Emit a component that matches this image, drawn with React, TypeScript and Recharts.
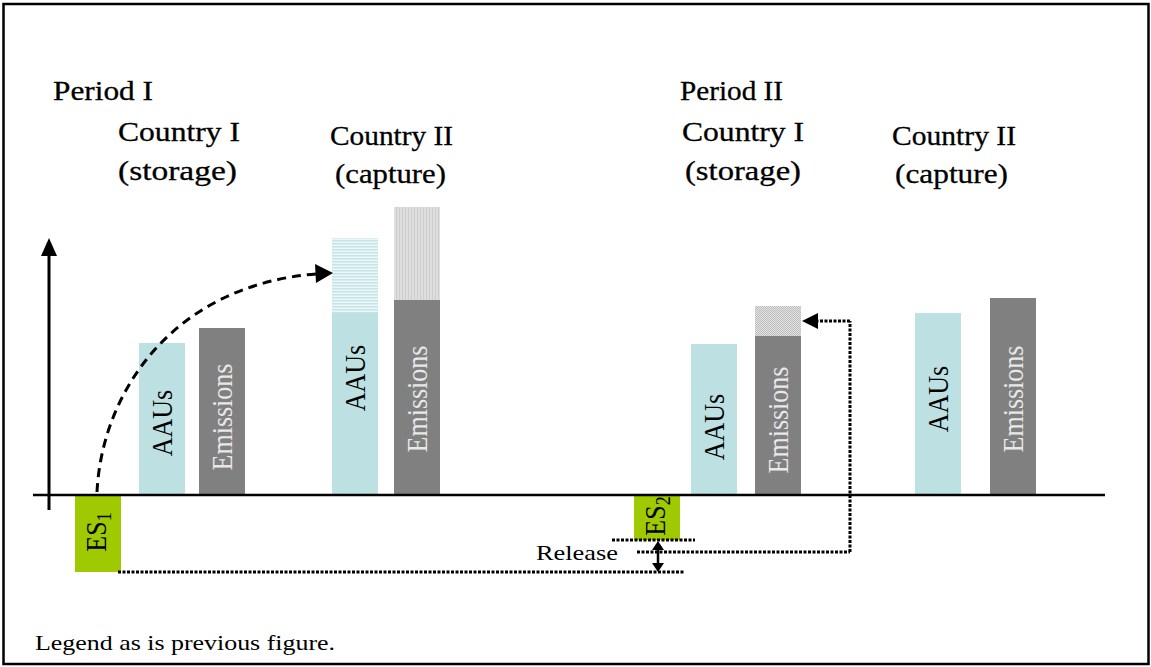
import React from 'react';
import { ComposedChart, XAxis, YAxis, ReferenceArea, ReferenceLine } from 'recharts';

// ---------- data ----------
const barLabels = ['AAUs', 'Emissions', 'AAUs', 'Emissions', 'AAUs', 'Emissions', 'AAUs', 'Emissions'];
const barPeriod = [1, 1, 1, 1, 2, 2, 2, 2];
const barBase = [152, 167, 182, 195, 151, 159, 182, 197];
const barExtra = [0, 0, 75, 93, 0, 30, 0, 0];
const barLabelLift = [72, 78, 117, 96, 68, 75, 96, 96];

const esLabels = ['1', '2'];
const esValues = [-77, -45];

const headerTexts = ['Period I', 'Country I', '(storage)', 'Country II', '(capture)', 'Period II', 'Country I', '(storage)', 'Country II', '(capture)'];

// ---------- layout ----------
const W = 1151;
const H = 667;
const ZERO_PX = 495;
const barLeft = [139, 199, 332, 394, 691, 755, 915, 990];
const BAR_W = 46;
const esLeft = [75, 634];
const headerLayout = [
  { x: 53, y: 100, w: 100, s: 27 },
  { x: 118, y: 141, w: 122, s: 28 },
  { x: 118, y: 180, w: 119, s: 28 },
  { x: 330, y: 145, w: 123, s: 28 },
  { x: 335, y: 183, w: 111, s: 28 },
  { x: 680, y: 100, w: 103, s: 27 },
  { x: 682, y: 141, w: 122, s: 28 },
  { x: 685, y: 180, w: 116, s: 28 },
  { x: 892, y: 145, w: 124, s: 28 },
  { x: 895, y: 183, w: 113, s: 28 },
];

const SERIF = 'Liberation Serif';
const AAU_COLOR = '#bde0e2';
const EM_COLOR = '#808080';
const ES_COLOR = '#9fc900';
const DOT = '3 1.5';
const DOT_W = 3;

const BarText = (props: any) => {
  const { viewBox, text, lift, color } = props;
  if (!viewBox) return null;
  const cx = viewBox.x + viewBox.width / 2;
  const cy = viewBox.y + viewBox.height - lift;
  return (
    <text
      transform={`translate(${cx},${cy}) scale(1.12,1) rotate(-90)`}
      textAnchor="middle"
      dominantBaseline="central"
      style={{ fontFamily: SERIF, fontSize: 26 }}
      fill={color}
    >
      {text}
    </text>
  );
};

const EsText = (props: any) => {
  const { viewBox, sub } = props;
  if (!viewBox) return null;
  const cx = viewBox.x + viewBox.width / 2;
  const cy = viewBox.y + viewBox.height / 2 - 2;
  return (
    <text
      transform={`translate(${cx - 2},${cy}) scale(1.12,1) rotate(-90)`}
      textAnchor="middle"
      dominantBaseline="central"
      style={{ fontFamily: SERIF, fontSize: 26 }}
      fill="#000"
    >
      ES<tspan style={{ fontSize: 18 }} dy={7}>{sub}</tspan>
    </text>
  );
};

const extraFill = (i: number) => {
  if (barLabels[i] === 'AAUs') return 'url(#hBlue)';
  return barPeriod[i] === 1 ? 'url(#vGrey)' : 'url(#chkGrey)';
};

export default function App() {
  const yDomain = [-(H - ZERO_PX), ZERO_PX];
  return (
    <div style={{ position: 'absolute', left: 0, top: 0, width: W, height: H, background: '#fff' }}>
      <svg width={1} height={1} style={{ position: 'absolute', left: 0, top: 0 }}>
        <defs>
          <pattern id="hBlue" width={4} height={3} patternUnits="userSpaceOnUse">
            <rect width={4} height={3} fill="#ecf7f8" />
            <rect width={4} height={1.5} fill="#c4e4e7" />
          </pattern>
          <pattern id="vGrey" width={3} height={4} patternUnits="userSpaceOnUse">
            <rect width={3} height={4} fill="#dedede" />
            <rect width={1} height={4} fill="#cdcdcd" />
          </pattern>
          <pattern id="chkGrey" width={2} height={2} patternUnits="userSpaceOnUse">
            <rect width={2} height={2} fill="#e2e2e2" />
            <rect width={1} height={1} fill="#bdbdbd" />
            <rect x={1} y={1} width={1} height={1} fill="#bdbdbd" />
          </pattern>
        </defs>
      </svg>
      <ComposedChart width={W} height={H} data={[{ x: 0, y: 0 }]} margin={{ top: 0, right: 0, bottom: 0, left: 0 }}>
        <XAxis type="number" dataKey="x" domain={[0, W]} hide allowDataOverflow />
        <YAxis type="number" dataKey="y" domain={yDomain} hide allowDataOverflow />
        {barLabels.map((lab, i) => (
          <ReferenceArea
            key={`b${i}`}
            x1={barLeft[i]}
            x2={barLeft[i] + BAR_W}
            y1={0}
            y2={barBase[i]}
            fill={lab === 'AAUs' ? AAU_COLOR : EM_COLOR}
            fillOpacity={1}
            stroke="none"
            label={<BarText text={lab} lift={barLabelLift[i]} color={lab === 'AAUs' ? '#000' : '#e8e8e8'} />}
          />
        ))}
        {barLabels.map((lab, i) =>
          barExtra[i] > 0 ? (
            <ReferenceArea
              key={`e${i}`}
              x1={barLeft[i]}
              x2={barLeft[i] + BAR_W}
              y1={barBase[i]}
              y2={barBase[i] + barExtra[i]}
              fill={extraFill(i)}
              fillOpacity={1}
              stroke="none"
            />
          ) : null
        )}
        {esValues.map((v, i) => (
          <ReferenceArea
            key={`es${i}`}
            x1={esLeft[i]}
            x2={esLeft[i] + BAR_W}
            y1={v}
            y2={-1}
            fill={ES_COLOR}
            fillOpacity={1}
            stroke="none"
            label={<EsText sub={esLabels[i]} />}
          />
        ))}
        <ReferenceLine segment={[{ x: 33, y: 0 }, { x: 1105, y: 0 }]} stroke="#000" strokeWidth={2.5} />
        <ReferenceLine segment={[{ x: esLeft[0] + BAR_W - 3, y: esValues[0] }, { x: 684, y: esValues[0] }]} stroke="#000" strokeWidth={DOT_W} strokeDasharray={DOT} />
        <ReferenceLine segment={[{ x: 612, y: esValues[1] }, { x: 695, y: esValues[1] }]} stroke="#000" strokeWidth={DOT_W} strokeDasharray={DOT} />
        <ReferenceLine segment={[{ x: 637, y: -57 }, { x: 850, y: -57 }]} stroke="#000" strokeWidth={DOT_W} strokeDasharray={DOT} />
        <ReferenceLine segment={[{ x: 850, y: -57 }, { x: 850, y: barBase[5] + barExtra[5] / 2 }]} stroke="#000" strokeWidth={DOT_W} strokeDasharray={DOT} />
        <ReferenceLine segment={[{ x: 850, y: barBase[5] + barExtra[5] / 2 }, { x: 817, y: barBase[5] + barExtra[5] / 2 }]} stroke="#000" strokeWidth={DOT_W} strokeDasharray={DOT} />
      </ComposedChart>
      <svg width={W} height={H} style={{ position: 'absolute', left: 0, top: 0, pointerEvents: 'none' }}>
        <rect x={3.5} y={4} width={1145} height={660} fill="none" stroke="#000" strokeWidth={2.5} />
        <line x1={49} y1={510} x2={49} y2={252} stroke="#000" strokeWidth={3} />
        <polygon points="49,238 41,256 57,256" fill="#000" />
        <path d="M 97 492 C 102 390, 175 285, 316 274" fill="none" stroke="#000" strokeWidth={3} strokeDasharray="9 6" />
        <polygon points="333,273 315,264 316,283" fill="#000" />
        <polygon points="802,321 818,313 818,329" fill="#000" />
        <line x1={658} y1={547} x2={658} y2={566} stroke="#000" strokeWidth={2.5} />
        <polygon points="658,541 652,550 664,550" fill="#000" />
        <polygon points="658,572 652,563 664,563" fill="#000" />
        {headerTexts.map((t, i) => (
          <text
            key={`h${i}`}
            x={headerLayout[i].x}
            y={headerLayout[i].y}
            style={{ fontFamily: SERIF, fontSize: headerLayout[i].s }}
            textLength={headerLayout[i].w}
            lengthAdjust="spacingAndGlyphs"
            fill="#000"
            stroke="#000"
            strokeWidth={0.3}
          >
            {t}
          </text>
        ))}
        <text x={536} y={560} style={{ fontFamily: SERIF, fontSize: 22 }} textLength={82} lengthAdjust="spacingAndGlyphs" fill="#000">
          Release
        </text>
        <text x={35} y={650} style={{ fontFamily: SERIF, fontSize: 21 }} textLength={300} lengthAdjust="spacingAndGlyphs" fill="#000">
          Legend as is previous figure.
        </text>
      </svg>
    </div>
  );
}
